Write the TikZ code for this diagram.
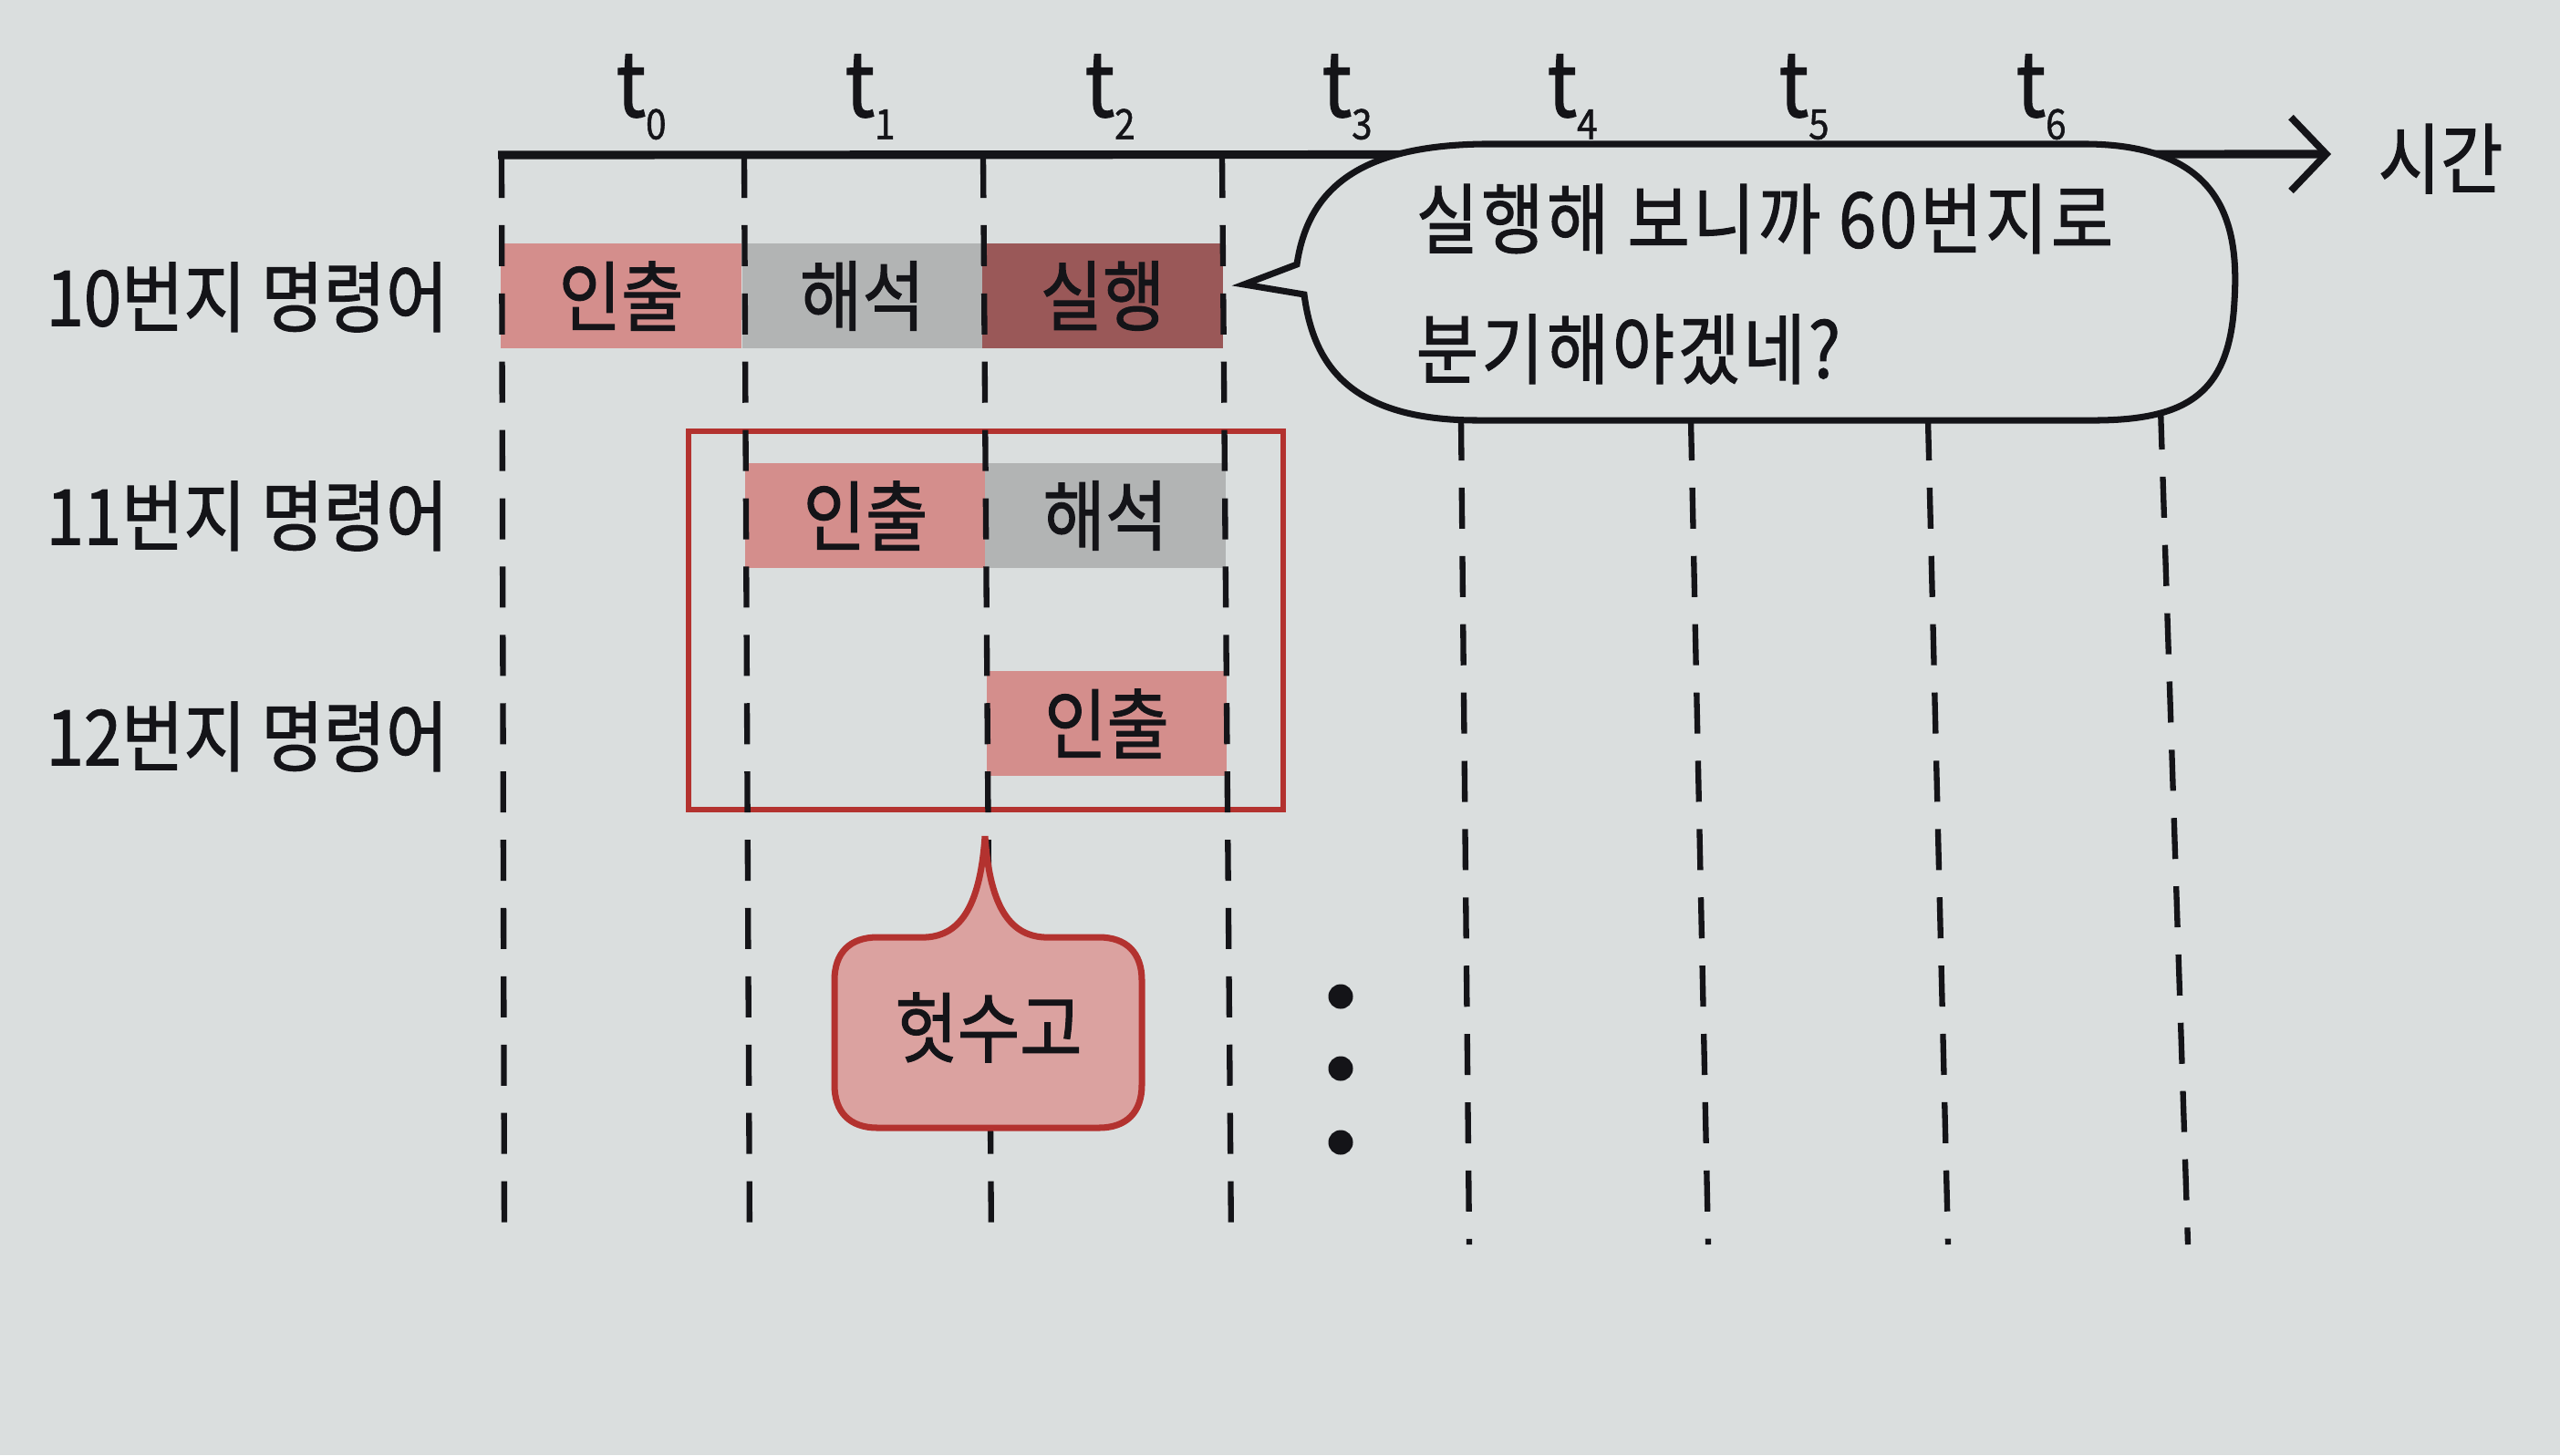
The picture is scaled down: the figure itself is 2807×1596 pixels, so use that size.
\documentclass[tikz,border=0pt]{standalone}
\usepackage{fontspec}
\usetikzlibrary{arrows.meta}
\newfontfamily\hand[FakeStretch=0.88,FakeBold=1.2]{Noto Sans CJK KR}
\newfontfamily\handwide[FakeStretch=0.88,FakeBold=1.2,LetterSpace=4]{Noto Sans CJK KR}
\definecolor{paper}{HTML}{DADEDE}
\definecolor{fetchc}{HTML}{D48E8C}
\definecolor{decodec}{HTML}{B2B4B4}
\definecolor{execc}{HTML}{9A5858}
\definecolor{framec}{HTML}{B3322F}
\definecolor{wastec}{HTML}{DBA2A0}
\definecolor{inkc}{HTML}{141418}
\begin{document}
\begin{tikzpicture}[x=0.01cm,y=-0.01cm,
  lbl/.style={font=\hand\fontsize{24}{26}\selectfont, text=inkc, inner sep=0},
  saytext/.style={font=\handwide\fontsize{24}{26}\selectfont, text=inkc, inner sep=0, anchor=west},
  stage/.style={lbl, minimum width=2.63cm, minimum height=1.15cm},
  fetch/.style={stage, fill=fetchc},
  decode/.style={stage, fill=decodec},
  exec/.style={stage, fill=execc},
  vline/.style={draw=inkc, line width=1.8pt, dash pattern=on 12.8pt off 8.5pt},
  tl/.style={font=\hand\fontsize{28}{28}\selectfont, text=inkc, anchor=base, inner sep=0},
]
\useasboundingbox[fill=paper] (0,0) rectangle (2807,1596);

% red frame
\draw[framec, line width=1.8pt] (755,473) rectangle (1407,888);

% stage boxes
\node[fetch]  (f10) at (681,324.5)  {인출};
\node[decode] (d10) at (945.5,324.5) {해석};
\node[exec]   (e10) at (1209,324.5) {실행};
\node[fetch]  (f11) at (949,565.5)  {인출};
\node[decode] (d11) at (1212,565.5) {해석};
\node[fetch]  (f12) at (1213.5,793.5) {인출};

% row labels
\node[lbl, anchor=west] (r10) at (50,326) {10번지 명령어};
\node[lbl, anchor=west] (r11) at (50,566) {11번지 명령어};
\node[lbl, anchor=west] (r12) at (50,808) {12번지 명령어};

% dashed time lines
\draw[vline] (550,172) -- (553,1365);
\draw[vline] (816,172) -- (822,1365);
\draw[vline] (1078,172) -- (1087,1365);
\draw[vline] (1340,172) -- (1350,1365);
\draw[vline] (1602,460) -- (1611,1365);
\draw[vline] (1854,460) -- (1873,1365);
\draw[vline] (2114,460) -- (2136,1365);
\draw[vline] (2369,448) -- (2399,1365);

% time axis
\coordinate (axL) at (546,170);
\coordinate (axR) at (2556,169);
\draw[inkc, line width=2.6pt, -{Straight Barb[length=11pt,width=23pt,line width=2.2pt]}] (axL) -- (axR);
\node[lbl] (time) at (2676,174) {시간};

% time labels
\foreach \i/\x in {0/703,1/954,2/1217,3/1477,4/1724,5/1978,6/2238}{
  \node[tl] (t\i) at (\x,128) {t\raisebox{-0.25em}{\fontsize{13}{13}\selectfont\i}};
}

% speech bubble
\draw[fill=paper, draw=inkc, line width=2pt]
  (1625,158) -- (2290,158)
  .. controls (2440,160) and (2455,250) .. (2450,330)
  .. controls (2445,430) and (2400,460) .. (2300,461)
  -- (1620,461)
  .. controls (1480,461) and (1440,400) .. (1430,323)
  -- (1364,312) -- (1422,290)
  .. controls (1435,200) and (1500,160) .. (1625,158) -- cycle;
\node[saytext] (say1) at (1552,240) {실행해 보니까 60번지로};
\node[saytext] (say2) at (1552,383) {분기해야겠네?};

% waste callout
\draw[fill=wastec, draw=framec, line width=2pt]
  (1080,917)
  .. controls (1085,990) and (1105,1026) .. (1145,1028)
  -- (1205,1028)
  .. controls (1235,1028) and (1252,1045) .. (1252,1075)
  -- (1252,1190)
  .. controls (1252,1220) and (1235,1237) .. (1205,1237)
  -- (962,1237)
  .. controls (932,1237) and (915,1220) .. (915,1190)
  -- (915,1075)
  .. controls (915,1045) and (932,1028) .. (962,1028)
  -- (1015,1028)
  .. controls (1055,1026) and (1075,990) .. (1080,917) -- cycle;
\node[lbl] (waste) at (1084,1127) {헛수고};

% continuation dots
\foreach \j/\y in {1/1093,2/1172,3/1253}{
  \node[circle, fill=inkc, inner sep=0, minimum size=0.27cm] (dot\j) at (1470,\y) {};
}
\end{tikzpicture}
\end{document}
